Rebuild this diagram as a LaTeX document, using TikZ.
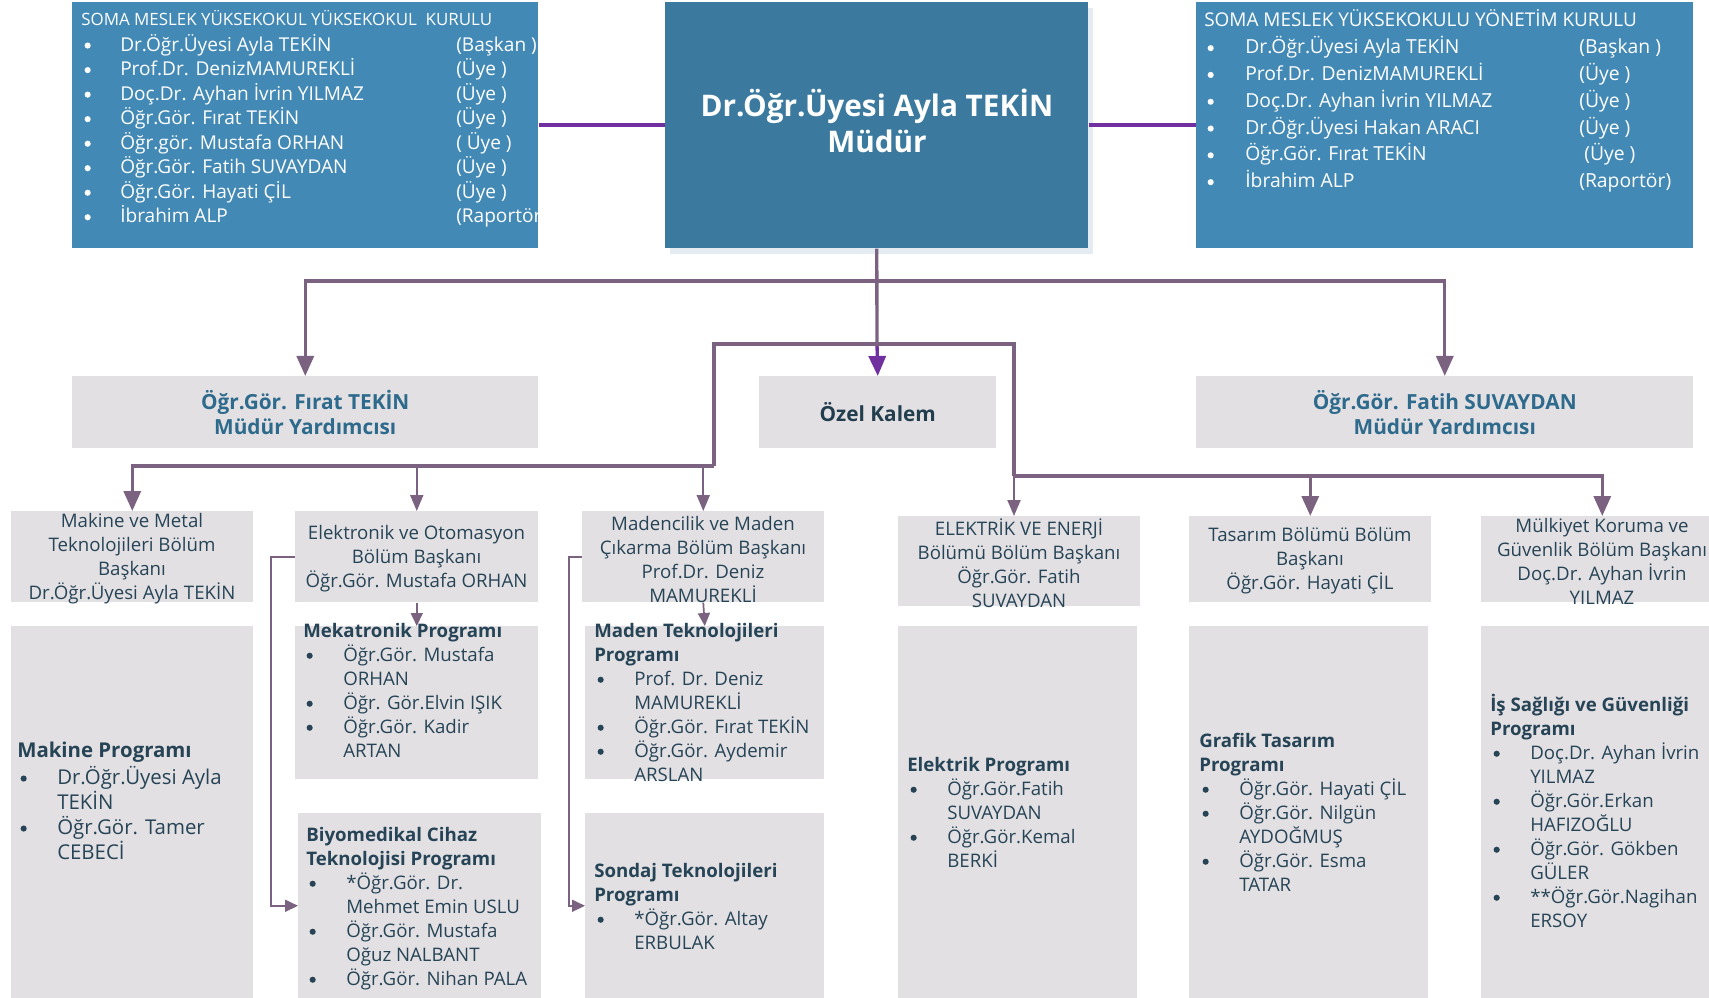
\documentclass[tikz,border=0pt]{standalone}
\usepackage{fontspec}
\setmainfont{Open Sans}
\usetikzlibrary{arrows.meta}

\definecolor{kurulblue}{RGB}{66,137,181}
\definecolor{mudurblue}{RGB}{59,122,158}
\definecolor{shadowblue}{RGB}{228,236,242}
\definecolor{boxgray}{RGB}{226,224,227}
\definecolor{connpurple}{RGB}{122,98,128}
\definecolor{linepurple}{RGB}{112,48,160}
\definecolor{titleblue}{RGB}{46,106,140}
\definecolor{darktext}{RGB}{38,68,86}
\definecolor{ozeltext}{RGB}{34,62,78}

% bullet rows
\newcommand{\bul}{\hspace{2.5pt}\raisebox{0.13em}{\tikz\fill[color=.] (0,0) circle (2.3pt);}}
\newcommand{\lrow}[2]{\makebox[29.25pt][l]{\bul}\makebox[252pt][l]{#1}#2}
\newcommand{\rrow}[2]{\makebox[30.75pt][l]{\bul}\makebox[250.5pt][l]{#1}#2}
\newcommand{\pit}[1]{\makebox[30pt][l]{\bul}#1}
\newcommand{\pcont}[1]{\hspace{30pt}#1}
\lineskiplimit=-20pt

\begin{document}
\begin{tikzpicture}[x=0.75pt,y=0.75pt,yscale=-1,xscale=1,
  wh/.style 2 args={minimum width=#1*0.75pt,minimum height=#2*0.75pt},
  bluebox/.style={fill=kurulblue,anchor=north west,inner sep=0pt},
  graybox/.style={fill=boxgray,anchor=north west,inner sep=0pt,align=center},
  depttext/.style={inner sep=0pt,align=center,text=darktext,font=\fontsize{14}{18}\selectfont},
  listtext/.style={anchor=north west,inner sep=0pt,align=left},
  progtext/.style={listtext,text=darktext,font=\fontsize{14}{18}\selectfont},
  toppurple/.style={draw=linepurple,line width=3pt},
  bus/.style={draw=connpurple,line width=2.5pt},
  thinbus/.style={draw=connpurple,line width=1.5pt},
  thinline/.style={draw=connpurple,line width=1.3pt},
  bigtip/.style={-{Triangle[length=15pt,width=12.75pt]}},
  midtip/.style={-{Triangle[length=12pt,width=9.75pt]}},
  smalltip/.style={-{Triangle[length=9.75pt,width=9pt]}}]
\useasboundingbox (0,0) rectangle (1709,998);

% top row
\node[bluebox,wh={466}{246}] (kurul) at (72,2) {};
\fill[shadowblue] (670,8) rectangle (1093,254);
\node[bluebox,fill=mudurblue,wh={423}{246}] (mudur) at (665,2) {};
\node[inner sep=0pt,text=white,align=center,font=\bfseries\fontsize{22.3}{27}\selectfont] (mudurT) at (877,121) {Dr.Öğr.Üyesi Ayla TEKİN\\Müdür};
\node[bluebox,wh={497}{246}] (yonetim) at (1196,2) {};

\begin{scope}
\clip (kurul.north west) rectangle (kurul.south east);
\node[listtext,text=white,font=\fontsize{14.3}{18.4}\selectfont] (kurulT) at (81,2.3) {\rule{0pt}{17pt}{\fontsize{12.7}{15}\selectfont SOMA MESLEK YÜKSEKOKUL YÜKSEKOKUL~ KURULU}\\[1pt]
\lrow{Dr.Öğr.Üyesi Ayla TEKİN}{(Başkan )}\\
\lrow{Prof.Dr. DenizMAMUREKLİ}{(Üye )}\\
\lrow{Doç.Dr. Ayhan İvrin YILMAZ}{(Üye )}\\
\lrow{Öğr.Gör. Fırat TEKİN}{(Üye )}\\
\lrow{Öğr.gör. Mustafa ORHAN}{( Üye )}\\
\lrow{Öğr.Gör. Fatih SUVAYDAN}{(Üye )}\\
\lrow{Öğr.Gör. Hayati ÇİL}{(Üye )}\\
\lrow{İbrahim ALP}{(Raportör}};
\end{scope}

\node[listtext,text=white,font=\fontsize{14.5}{20.1}\selectfont] (yonetimT) at (1204,4) {\rule{0pt}{17pt}{\fontsize{14.2}{17}\selectfont SOMA MESLEK YÜKSEKOKULU YÖNETİM KURULU}\\
\rrow{Dr.Öğr.Üyesi Ayla TEKİN}{(Başkan )}\\
\rrow{Prof.Dr. DenizMAMUREKLİ}{(Üye )}\\
\rrow{Doç.Dr. Ayhan İvrin YILMAZ}{(Üye )}\\
\rrow{Dr.Öğr.Üyesi Hakan ARACI}{(Üye )}\\
\rrow{Öğr.Gör. Fırat TEKİN}{\hspace{3.75pt}(Üye )}\\
\rrow{İbrahim ALP}{(Raportör)}};

\draw[toppurple] (kurul.east) -- (mudur.west);
\draw[toppurple] (mudur.east) -- (yonetim.west);

% second row
\node[graybox,wh={466}{72},text=titleblue,font=\bfseries\fontsize{15.6}{18.75}\selectfont] (myL) at (72,376) {Öğr.Gör. Fırat TEKİN\\Müdür Yardımcısı};
\node[graybox,wh={237}{72},text=ozeltext,font=\bfseries\fontsize{15.6}{18.75}\selectfont] (ozel) at (759,376) {Özel Kalem};
\node[graybox,wh={497}{72},text=titleblue,font=\bfseries\fontsize{15.6}{18.75}\selectfont] (myR) at (1196,376) {Öğr.Gör. Fatih SUVAYDAN\\Müdür Yardımcısı};

% departments
\node[graybox,wh={242}{91}] (makine) at (11,511) {};
\node[graybox,wh={243}{91}] (elektronik) at (295,511) {};
\node[graybox,wh={242}{91}] (maden) at (582,511) {};
\node[graybox,wh={242}{90}] (elektrik) at (898,516) {};
\node[graybox,wh={242}{86}] (tasarim) at (1189,516) {};
\node[graybox,wh={242}{86}] (mulkiyet) at (1481,516) {};

\node[depttext] (makineT) at (132,559) {Makine ve Metal\\Teknolojileri Bölüm\\Başkanı\\Dr.Öğr.Üyesi Ayla TEKİN};
\node[depttext] (elektronikT) at (416.5,559) {Elektronik ve Otomasyon\\Bölüm Başkanı\\Öğr.Gör. Mustafa ORHAN};
\node[depttext] (madenT) at (703,559) {Madencilik ve Maden\\Çıkarma Bölüm Başkanı\\Prof.Dr. Deniz\\MAMUREKLİ};
\node[depttext] (elektrikT) at (1019,563) {ELEKTRİK VE ENERJİ\\Bölümü Bölüm Başkanı\\Öğr.Gör. Fatih\\SUVAYDAN};
\node[depttext] (tasarimT) at (1310,561) {Tasarım Bölümü Bölüm\\Başkanı\\Öğr.Gör. Hayati ÇİL};
\node[depttext] (mulkiyetT) at (1602,561) {Mülkiyet Koruma ve\\Güvenlik Bölüm Başkanı\\Doç.Dr. Ayhan İvrin\\YILMAZ};

% programmes
\node[graybox,wh={242}{380}] (pMakine) at (11,626) {};
\node[graybox,wh={243}{153}] (pMekatronik) at (295,626) {};
\node[graybox,wh={243}{185}] (pBiyomed) at (298,813) {};
\node[graybox,wh={239}{153}] (pMaden) at (585,626) {};
\node[graybox,wh={239}{185}] (pSondaj) at (585,813) {};
\node[graybox,wh={239}{380}] (pElektrik) at (898,626) {};
\node[graybox,wh={239}{380}] (pGrafik) at (1189,626) {};
\node[graybox,wh={242}{380}] (pIs) at (1481,626) {};

\node[progtext,font=\fontsize{15.3}{18.75}\selectfont] (pMakineT) at (17,735) {\rule{0pt}{16.5pt}\textbf{Makine Programı}\\[1.5pt]
\pit{Dr.Öğr.Üyesi Ayla}\\ \pcont{TEKİN}\\ \pit{Öğr.Gör. Tamer}\\ \pcont{CEBECİ}};
\node[progtext] (pMekatronikT) at (303,616.3) {\rule{0pt}{15.5pt}\textbf{Mekatronik Programı}\\
\pit{Öğr.Gör. Mustafa}\\ \pcont{ORHAN}\\ \pit{Öğr. Gör.Elvin IŞIK}\\ \pit{Öğr.Gör. Kadir}\\ \pcont{ARTAN}};
\node[progtext] (pBiyomedT) at (306,820.3) {\rule{0pt}{15.5pt}\textbf{Biyomedikal Cihaz}\\ \textbf{Teknolojisi Programı}\\
\pit{*Öğr.Gör. Dr.}\\ \pcont{Mehmet Emin USLU}\\ \pit{Öğr.Gör. Mustafa}\\ \pcont{Oğuz NALBANT}\\ \pit{Öğr.Gör. Nihan PALA}};
\node[progtext] (pMadenT) at (594,616.3) {\rule{0pt}{15.5pt}\textbf{Maden Teknolojileri}\\ \textbf{Programı}\\
\pit{Prof. Dr. Deniz}\\ \pcont{MAMUREKLİ}\\ \pit{Öğr.Gör. Fırat TEKİN}\\ \pit{Öğr.Gör. Aydemir}\\ \pcont{ARSLAN}};
\node[progtext] (pSondajT) at (594,856.3) {\rule{0pt}{15.5pt}\textbf{Sondaj Teknolojileri}\\ \textbf{Programı}\\
\pit{*Öğr.Gör. Altay}\\ \pcont{ERBULAK}};
\node[progtext] (pElektrikT) at (907,750.3) {\rule{0pt}{15.5pt}\textbf{Elektrik Programı}\\
\pit{Öğr.Gör.Fatih}\\ \pcont{SUVAYDAN}\\ \pit{Öğr.Gör.Kemal}\\ \pcont{BERKİ}};
\node[progtext] (pGrafikT) at (1199,726.3) {\rule{0pt}{15.5pt}\textbf{Grafik Tasarım}\\ \textbf{Programı}\\
\pit{Öğr.Gör. Hayati ÇİL}\\ \pit{Öğr.Gör. Nilgün}\\ \pcont{AYDOĞMUŞ}\\ \pit{Öğr.Gör. Esma}\\ \pcont{TATAR}};
\node[progtext] (pIsT) at (1490,690.3) {\rule{0pt}{15.5pt}\textbf{İş Sağlığı ve Güvenliği}\\ \textbf{Programı}\\
\pit{Doç.Dr. Ayhan İvrin}\\ \pcont{YILMAZ}\\ \pit{Öğr.Gör.Erkan}\\ \pcont{HAFIZOĞLU}\\ \pit{Öğr.Gör. Gökben}\\ \pcont{GÜLER}\\ \pit{**Öğr.Gör.Nagihan}\\ \pcont{ERSOY}};

% connectors
\coordinate (bus1) at (877,281);
\coordinate (bus2) at (877,344);
\coordinate (jL) at (714,466);
\coordinate (jR) at (1014,476);

\draw[bus] (mudur.south) -- (bus2);
\draw[bus,bigtip] (bus1) -| (myL.north);
\draw[bus,bigtip] (bus1) -| (myR.north);
\draw[bus,draw=linepurple,bigtip] (bus2) -- (ozel.north);

\draw[bus] (bus2) -| (jL);
\draw[bus,bigtip] (jL) -| (makine.north);
\draw[thinbus,midtip] (jL) -| (elektronik.north);
\draw[thinbus,midtip] (jL) -| (maden.north);

\draw[bus] (bus2) -| (jR);
\draw[thinbus,midtip] (jR) -- (jR |- elektrik.north);
\draw[bus,bigtip] (jR) -| (tasarim.north);
\draw[bus,bigtip] (jR) -| (mulkiyet.north);

\draw[thinline,smalltip] (elektronik.south) -- (pMekatronik.north);
\draw[thinline,smalltip] (maden.south) -- (pMaden.north);
\draw[thinline,smalltip] (elektronik.west) -- ++(-24,0) |- (pBiyomed.west);
\draw[thinline,smalltip] (maden.west) -- ++(-13,0) |- (pSondaj.west);
\end{tikzpicture}
\end{document}
